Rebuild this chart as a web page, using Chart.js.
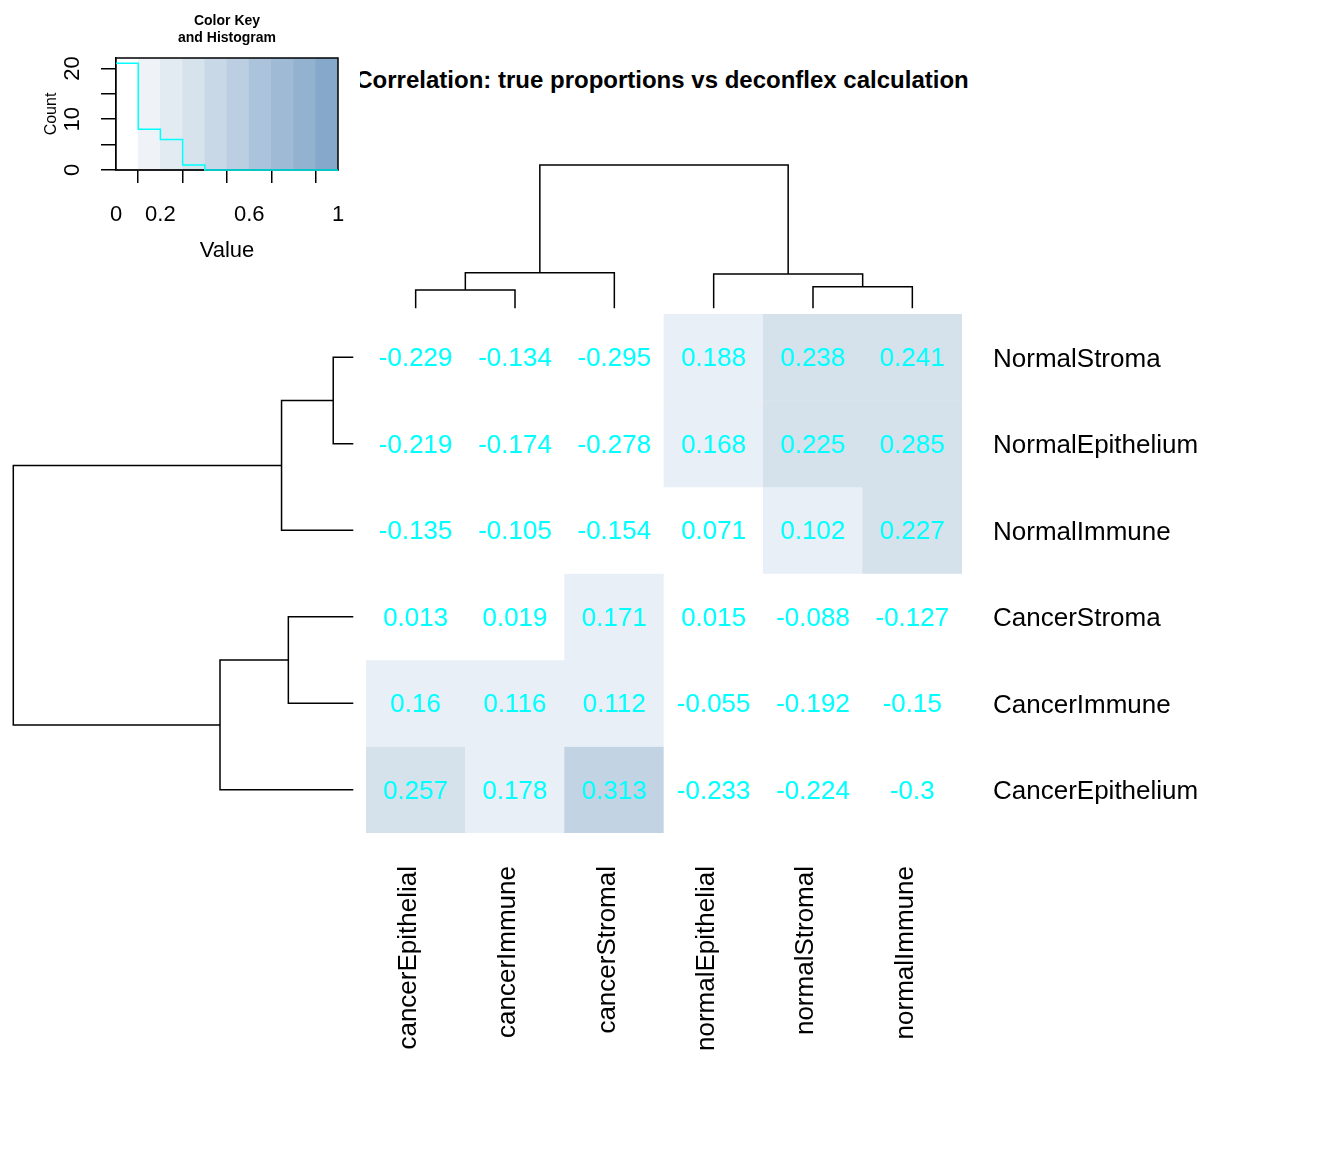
<!DOCTYPE html>
<html>
<head>
<meta charset="utf-8">
<script src="https://cdn.jsdelivr.net/npm/chart.js@4.4.0/dist/chart.umd.min.js"></script>
<style>
  body { margin: 0; background: #fff; }
  #page { position: relative; width: 1344px; height: 1152px; background: #fff; overflow: hidden; }
  canvas { position: absolute; }
  #mainTitle { position: absolute; left: 360px; top: 64px; width: 700px; height: 34px; overflow: hidden; }
  #mainTitle span { position: absolute; left: 302px; top: 0; transform: translateX(-50%); white-space: nowrap;
    font: bold 24px 'Liberation Sans', Arial, sans-serif; line-height: 32px; color: #000; }
</style>
</head>
<body>
<div id="page">
  <canvas id="keyChart" width="360" height="270" style="left:0;top:0;width:360px;height:270px"></canvas>
  <div id="mainTitle"><span>Correlation: true proportions vs deconflex calculation</span></div>
  <canvas id="colDendro" width="596" height="164" style="left:366px;top:150px;width:596px;height:164px"></canvas>
  <canvas id="rowDendro" width="366" height="519" style="left:0;top:314px;width:366px;height:519px"></canvas>
  <canvas id="heatmap" width="856" height="769" style="left:366px;top:314px;width:856px;height:769px"></canvas>
</div>
<script>
// column / row order as shown after clustering
const colLabels = ['cancerEpithelial', 'cancerImmune', 'cancerStromal', 'normalEpithelial', 'normalStromal', 'normalImmune'];
const rowLabels = ['NormalStroma', 'NormalEpithelium', 'NormalImmune', 'CancerStroma', 'CancerImmune', 'CancerEpithelium'];

// correlation values, one array per row (top to bottom), columns in colLabels order
const rowNormalStroma      = [-0.229, -0.134, -0.295, 0.188, 0.238, 0.241];
const rowNormalEpithelium  = [-0.219, -0.174, -0.278, 0.168, 0.225, 0.285];
const rowNormalImmune      = [-0.135, -0.105, -0.154, 0.071, 0.102, 0.227];
const rowCancerStroma      = [0.013, 0.019, 0.171, 0.015, -0.088, -0.127];
const rowCancerImmune      = [0.16, 0.116, 0.112, -0.055, -0.192, -0.15];
const rowCancerEpithelium  = [0.257, 0.178, 0.313, -0.233, -0.224, -0.3];
const corrRows = [rowNormalStroma, rowNormalEpithelium, rowNormalImmune, rowCancerStroma, rowCancerImmune, rowCancerEpithelium];

// cell colours
const cellBreaks = [0.1, 0.2, 0.3, 0.4];
const cellColors = ['#ffffff', '#e8eff6', '#d5e2ec', '#c2d4e4', '#b5cbe0'];

// dendrograms (hclust style merge: negative = leaf position, positive = earlier merge)
const colMerge = [[-1, -2], [1, -3], [-5, -6], [-4, 3], [2, 4]];
const colHeights = [0.128, 0.248, 0.151, 0.239, 1];
const rowMerge = [[-1, -2], [1, -3], [-4, -5], [3, -6], [2, 4]];
const rowHeights = [0.059, 0.211, 0.191, 0.392, 1];

// colour key + histogram
const keyBreaks = [0, 0.1, 0.2, 0.3, 0.4, 0.5, 0.6, 0.7, 0.8, 0.9, 1];
const keyColors = ['#ffffff', '#eff3f7', '#e3ebf2', '#d6e2ec', '#c8d8e6', '#bbcee2', '#abc4db', '#9fbad5', '#93b2d0', '#85a8cb'];
const histCounts = [21, 8, 6, 1, 0, 0, 0, 0, 0, 0];
const keyXTicks = [0, 0.2, 0.4, 0.6, 0.8, 1];
const keyXTickLabels = ['0', '0.2', '', '0.6', '', '1'];
const keyYTicks = [0, 5, 10, 15, 20];
const keyYTickLabels = ['0', '', '10', '', '20'];
const keyYMax = 22.05;

Chart.defaults.font.family = "'Liberation Sans', Arial, Helvetica, sans-serif";
Chart.defaults.color = '#000';
Chart.defaults.animation = false;
Chart.defaults.events = [];
Chart.defaults.plugins.legend.display = false;
Chart.defaults.plugins.tooltip.enabled = false;

function cellColor(v) {
    let i = 0;
    while (i < cellBreaks.length && v >= cellBreaks[i]) i++;
    return cellColors[i];
}

// turn merge table into rectangle-shaped line pieces
function dendroLines(merge, heights, horizontal) {
    const nodes = [];
    const lines = [];
    const getNode = (k) => k < 0 ? {pos: -k - 1, h: 0} : nodes[k - 1];
    merge.forEach((m, i) => {
        const a = getNode(m[0]);
        const b = getNode(m[1]);
        const h = heights[i];
        const pts = [[a.pos, a.h], [a.pos, h], [b.pos, h], [b.pos, b.h]];
        lines.push(pts.map(p => horizontal ? {x: p[1], y: p[0]} : {x: p[0], y: p[1]}));
        nodes.push({pos: (a.pos + b.pos) / 2, h: h});
    });
    return lines;
}

function lineSets(lines) {
    return lines.map(pts => ({
        data: pts,
        showLine: true,
        borderColor: '#000',
        borderWidth: 1.5,
        pointRadius: 0,
        clip: false
    }));
}

// keep the axes from eating into the plot area
function fixX(h) {
    return (s) => { s.height = h; s.paddingLeft = 0; s.paddingRight = 0; };
}
function fixY(w) {
    return (s) => { s.width = w; s.paddingTop = 0; s.paddingBottom = 0; };
}

// ---------- colour key ----------
const keyBox = {
    id: 'keyBox',
    afterDatasetDraw(chart, args) {
        if (args.index !== 0) return;
        const a = chart.chartArea;
        const ctx = chart.ctx;
        ctx.save();
        ctx.strokeStyle = '#000';
        ctx.lineWidth = 1.5;
        ctx.strokeRect(a.left, a.top, a.right - a.left, a.bottom - a.top);
        ctx.restore();
    }
};

new Chart('keyChart', {
    type: 'bar',
    data: {
        datasets: [{
            type: 'bar',
            order: 2,
            data: keyColors.map((c, i) => ({x: (keyBreaks[i] + keyBreaks[i + 1]) / 2, y: keyYMax})),
            backgroundColor: keyColors,
            barPercentage: 1,
            categoryPercentage: 1,
            borderWidth: 0
        }, {
            type: 'line',
            order: 1,
            data: keyBreaks.map((b, i) => ({x: b, y: histCounts[Math.min(i, histCounts.length - 1)]})),
            borderColor: '#00ffff',
            borderWidth: 1.5,
            pointRadius: 0,
            stepped: 'before',
            clip: false
        }]
    },
    options: {
        responsive: false,
        devicePixelRatio: 1,
        layout: {padding: {left: 0, right: 22, top: 0, bottom: 0}, autoPadding: false},
        plugins: {
            title: {
                display: true,
                text: ['Color Key', 'and Histogram'],
                font: {size: 14, weight: 'bold', lineHeight: 1.2},
                padding: {top: 13, bottom: 11.4},
                fullSize: false,
                color: '#000'
            }
        },
        scales: {
            x: {
                type: 'linear',
                min: 0,
                max: 1,
                offset: false,
                afterBuildTicks: (s) => { s.ticks = keyXTicks.map(v => ({value: v})); },
                afterFit: fixX(100),
                ticks: {
                    font: {size: 22},
                    padding: 19,
                    autoSkip: false,
                    maxRotation: 0,
                    callback: (v, i) => keyXTickLabels[i]
                },
                grid: {drawOnChartArea: false, drawTicks: true, tickLength: 13, color: '#000', lineWidth: 1.5},
                border: {display: true, color: '#000', width: 1.5},
                title: {display: true, text: 'Value', font: {size: 22, lineHeight: 1.2}, padding: {top: 0, bottom: 5.8}}
            },
            y: {
                min: 0,
                max: keyYMax,
                afterBuildTicks: (s) => { s.ticks = keyYTicks.map(v => ({value: v})); },
                afterFit: fixY(116),
                ticks: {
                    font: {size: 22},
                    padding: 16,
                    minRotation: 90,
                    maxRotation: 90,
                    crossAlign: 'center',
                    autoSkip: false,
                    callback: (v, i) => keyYTickLabels[i]
                },
                grid: {drawOnChartArea: false, drawTicks: true, tickLength: 15, color: '#000', lineWidth: 1.5},
                border: {display: true, color: '#000', width: 1.5},
                title: {display: true, text: 'Count', font: {size: 16, lineHeight: 1.2}, padding: {top: 42, bottom: 0}}
            }
        }
    },
    plugins: [keyBox]
});

// ---------- dendrograms ----------
new Chart('colDendro', {
    type: 'scatter',
    data: {datasets: lineSets(dendroLines(colMerge, colHeights, false))},
    options: {
        responsive: false,
        devicePixelRatio: 1,
        layout: {padding: 0, autoPadding: false},
        scales: {
            x: {display: false, min: -0.5, max: 5.5},
            y: {display: false, min: -0.0398, max: 1.1047}
        }
    }
});

new Chart('rowDendro', {
    type: 'scatter',
    data: {datasets: lineSets(dendroLines(rowMerge, rowHeights, true))},
    options: {
        responsive: false,
        devicePixelRatio: 1,
        layout: {padding: 0, autoPadding: false},
        scales: {
            x: {display: false, reverse: true, min: -0.0374, max: 1.0391},
            y: {display: false, reverse: true, min: -0.5, max: 5.5}
        }
    }
});

// ---------- heatmap ----------
const cellText = {
    id: 'cellText',
    afterDatasetsDraw(chart) {
        const ctx = chart.ctx;
        ctx.save();
        ctx.font = "26px 'Liberation Sans', Arial, sans-serif";
        ctx.fillStyle = '#00ffff';
        ctx.textAlign = 'center';
        ctx.textBaseline = 'middle';
        corrRows.forEach((row, r) => {
            chart.getDatasetMeta(r).data.forEach((bar, c) => {
                ctx.fillText(String(row[c]), bar.x, (bar.y + bar.base) / 2 + 2);
            });
        });
        ctx.restore();
    }
};

new Chart('heatmap', {
    type: 'bar',
    data: {
        labels: colLabels,
        datasets: corrRows.map((row, r) => ({
            label: rowLabels[r],
            data: row.map(() => 1),
            backgroundColor: row.map(cellColor),
            barPercentage: 1,
            categoryPercentage: 1,
            borderWidth: 0
        }))
    },
    options: {
        responsive: false,
        devicePixelRatio: 1,
        layout: {padding: 0, autoPadding: false},
        scales: {
            x: {
                stacked: true,
                offset: true,
                afterFit: fixX(250),
                ticks: {font: {size: 26}, minRotation: 90, maxRotation: 90, autoSkip: false, padding: 33, labelOffset: -7},
                grid: {display: false, drawTicks: false},
                border: {display: false}
            },
            y: {stacked: true, display: false, min: 0, max: 6, reverse: true},
            yLab: {
                type: 'linear',
                position: 'right',
                min: -0.5,
                max: 5.5,
                reverse: true,
                afterBuildTicks: (s) => { s.ticks = rowLabels.map((l, i) => ({value: i})); },
                afterFit: fixY(260),
                ticks: {font: {size: 26}, padding: 31, labelOffset: 2.5, callback: (v) => rowLabels[v]},
                grid: {display: false, drawTicks: false},
                border: {display: false}
            }
        }
    },
    plugins: [cellText]
});
</script>
</body>
</html>
